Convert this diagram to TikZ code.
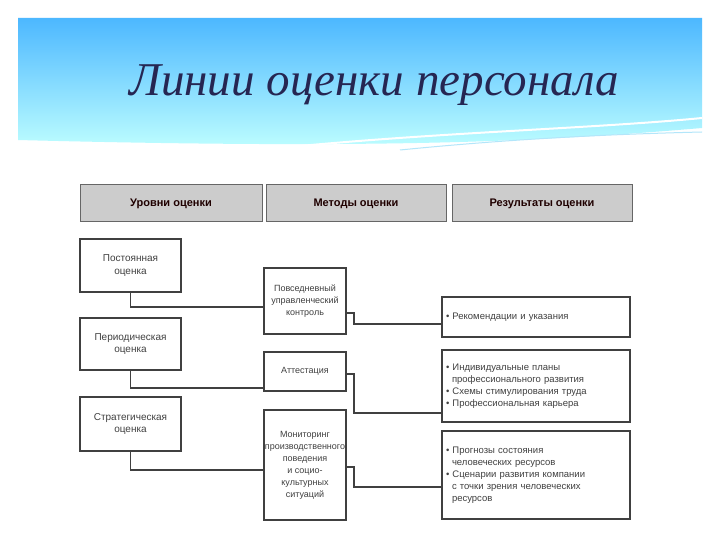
\documentclass[tikz,border=0pt]{standalone}
\usepackage{fontspec}
\setmainfont{Liberation Sans}
\newfontfamily\titlefont{Liberation Serif}
\begin{document}
\begin{tikzpicture}[x=1pt,y=-1pt,
  hdr/.style={draw=gray!80!black,line width=1pt,fill=gray!40,minimum height=37pt,font=\bfseries\fontsize{11}{12}\selectfont,text=black!80!red!60!black},
  bx/.style={draw=black!75,line width=1.2pt,fill=white,align=center,font=\fontsize{10}{12.5}\selectfont,text=black!75,inner sep=2pt},
  mb/.style={bx,font=\fontsize{9}{12}\selectfont,inner sep=1pt},
  rb/.style={draw=black!75,line width=1.2pt,fill=white,align=left,font=\fontsize{9.5}{12}\selectfont,text=black!75,text width=180pt,inner sep=4pt},
  ln/.style={draw=black!75,line width=1.4pt}]
\useasboundingbox (0,0) rectangle (720,540);
\fill[white] (0,0) rectangle (720,540);
\shade[top color=cyan!60!blue!70,bottom color=cyan!25] (18,18) -- (702,18) -- (702,128) .. controls (560,140) and (400,150) .. (18,140) -- cycle;
\draw[white,line width=2pt] (300,146) .. controls (450,132) and (600,128) .. (702,118);
\draw[cyan!30,line width=1pt] (400,150) .. controls (520,138) and (620,134) .. (702,132);
\node[font=\titlefont\itshape\fontsize{47}{48}\selectfont,text=blue!20!black!85] (t) at (374,85) {Линии оценки персонала};
\node[hdr,minimum width=182pt] (h1) at (171,203.5) {Уровни оценки};
\node[hdr,minimum width=180pt] (h2) at (356,203.5) {Методы оценки};
\node[hdr,minimum width=180pt] (h3) at (542,203.5) {Результаты оценки};
\node[bx,minimum width=101pt,minimum height=53pt] (l1) at (130.5,265.5) {Постоянная\\оценка};
\node[bx,minimum width=101pt,minimum height=52pt] (l2) at (130.5,344) {Периодическая\\оценка};
\node[bx,minimum width=101pt,minimum height=54pt] (l3) at (130.5,424) {Стратегическая\\оценка};
\node[mb,minimum width=82pt,minimum height=66pt] (m1) at (305,301) {Повседневный\\управленческий\\контроль};
\node[mb,minimum width=82pt,minimum height=39pt] (m2) at (305,371.5) {Аттестация};
\node[mb,minimum width=82pt,minimum height=110pt] (m3) at (305,465) {Мониторинг\\производственного\\поведения\\и социо-\\культурных\\ситуаций};
\node[rb,minimum height=40pt] (r1) at (536,317) {• Рекомендации и указания};
\node[rb,minimum height=72pt] (r2) at (536,386) {• Индивидуальные планы\\\hspace*{6pt}профессионального развития\\• Схемы стимулирования труда\\• Профессиональная карьера};
\node[rb,minimum height=88pt] (r3) at (536,475) {• Прогнозы состояния\\\hspace*{6pt}человеческих ресурсов\\• Сценарии развития компании\\\hspace*{6pt}с точки зрения человеческих\\\hspace*{6pt}ресурсов};
\draw[ln] (l1.south) |- (m1.west |- 0,307);
\draw[ln] (l2.south) |- (m2.west |- 0,388);
\draw[ln] (l3.south) |- (m3.west |- 0,470);
\draw[ln] (m1.east |- 0,313) -- (354,313) |- (r1.west |- 0,324);
\draw[ln] (m2.east |- 0,374) -- (354,374) |- (r2.west |- 0,413);
\draw[ln] (m3.east |- 0,467) -- (354,467) |- (r3.west |- 0,487);
\end{tikzpicture}
\end{document}
